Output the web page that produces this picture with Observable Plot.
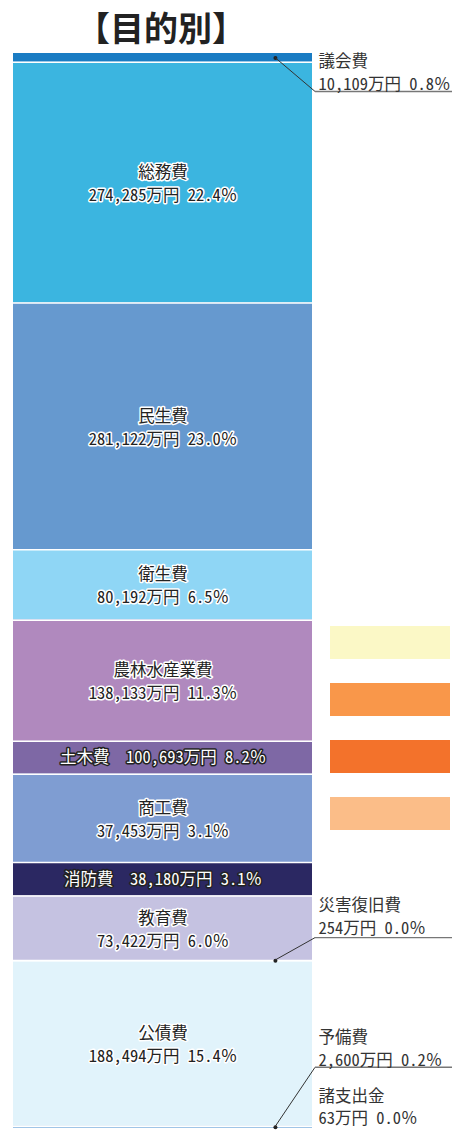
<!DOCTYPE html>
<html><head><meta charset="utf-8">
<script src="https://cdn.jsdelivr.net/npm/d3@7"></script>
<script src="https://cdn.jsdelivr.net/npm/@observablehq/plot@0.6"></script>
<style>
html,body{margin:0;padding:0;background:#fff}
#wrap{position:relative;width:458px;height:1130px;overflow:hidden}
#main{position:absolute;left:0;top:0}
#title{position:absolute;left:0;top:7px;width:322px;text-align:center;font-family:"Noto Sans CJK JP",sans-serif;font-weight:bold;font-size:34px;line-height:40px;color:#222}
#sw{position:absolute;left:330px;top:614px}
</style></head><body>
<div id="wrap"><div id="main"></div><div id="title">【目的別】</div><div id="sw"></div></div>
<script>
// ---- data ----
const categories = ["議会費","総務費","民生費","衛生費","農林水産業費","土木費","商工費","消防費","教育費","災害復旧費","公債費","予備費","諸支出金"];
const amounts  = [10109,274285,281122,80192,138133,100693,37453,38180,73422,254,188494,2600,63]; // 万円
const percents = ["0.8","22.4","23.0","6.5","11.3","8.2","3.1","3.1","6.0","0.0","15.4","0.2","0.0"];
// segment lengths as drawn in the picture (the 土木費 / 商工費 segments are drawn with each other's length)
const barLengths = [10109,274285,281122,80192,138133,37453,100693,38180,73422,254,188494,2600,63];
const segColors = ["#1a7cc3","#3bb5e0","#6699cf","#8fd6f5","#b089be","#7e68a5","#7f9dd2","#2b2862","#c5c2e1","#c5c2e1","#e1f3fb","#9cc3e6","#9cc3e6"];
const swatchColors = ["#fbf8c6","#f9974a","#f3722b","#fbbd88"];

// ---- layout (not data) ----
const FONT = "'Noto Sans Mono CJK JP','Noto Sans CJK JP',sans-serif";
const FS = 16.5;
const insideTwo = ["総務費","民生費","衛生費","農林水産業費","商工費","教育費","公債費"];
const insideOne = ["土木費","消防費"];
const outside = {
  "議会費":   {l1: 4,   l2: 27,  under: 34,    leader: true},
  "災害復旧費": {l1: -55, l2: -32, under: -22.5, leader: true},
  "予備費":   {l1: -90, l2: -67, under: -59.5, leader: true},
  "諸支出金": {l1: -32, l2: -10, under: null,  leader: false}
};
const dotFrac = 0.876;

const fmt = d3.format(",");
const total = d3.sum(barLengths);
const ends = d3.cumsum(barLengths);
const segs = categories.map((c, i) => ({
  name: c,
  amount: amounts[i],
  pct: percents[i],
  color: segColors[i],
  y1: ends[i] - barLengths[i],
  y2: ends[i],
  mid: ends[i] - barLengths[i] / 2,
  valueText: `${fmt(amounts[i])}万円 ${percents[i]}％`
}));
const two = segs.filter(d => insideTwo.includes(d.name));
const one = segs.filter(d => insideOne.includes(d.name));
const out = segs.filter(d => outside[d.name]);
const seps = segs.filter((d, i) => i > 0 && d.amount > 100);

function leaders(index, scales) {
  const g = d3.create("svg:g");
  const xr = scales.x(1);
  for (const d of out) {
    const L = outside[d.name];
    if (!L.leader) continue;
    const y0 = scales.y(d.mid);
    const x0 = scales.x(dotFrac);
    const yU = y0 + L.under;
    g.append("line").attr("x1", x0).attr("y1", y0).attr("x2", xr + 3).attr("y2", yU)
      .attr("stroke", "#333").attr("stroke-width", 1);
    g.append("line").attr("x1", xr + 3).attr("y1", yU).attr("x2", 452).attr("y2", yU)
      .attr("stroke", "#777").attr("stroke-width", 1.4);
  }
  return g.node();
}

const textCommon = {x: 0.5, y: "mid", fontFamily: FONT, fontSize: FS, textAnchor: "middle"};

const main = Plot.plot({
  width: 458, height: 1130,
  marginTop: 53, marginBottom: 2, marginLeft: 13, marginRight: 146,
  x: {domain: [0, 1], axis: null},
  y: {domain: [0, total], reverse: true, axis: null},
  style: {background: "white"},
  marks: [
    Plot.rect(segs, {x1: 0, x2: 1, y1: "y1", y2: "y2", fill: "color"}),
    Plot.ruleY(seps, {y: "y1", x1: 0, x2: 1, stroke: "white", strokeWidth: 1.5}),
    // two-line labels
    Plot.text(two, {...textCommon, text: "name", dy: -10, fill: "#222", stroke: "white", strokeWidth: 3, paintOrder: "stroke"}),
    Plot.text(two, {...textCommon, text: "valueText", dy: 13, fill: "#222", stroke: "white", strokeWidth: 3, paintOrder: "stroke"}),
    // single-line labels on thin dark segments
    Plot.text(one, {...textCommon, text: d => `${d.name}　${d.valueText}`, fill: "white", stroke: "#222", strokeWidth: 3, paintOrder: "stroke"}),
    // outside annotations
    Plot.dot(out.filter(d => outside[d.name].leader), {x: dotFrac, y: "mid", r: 2, fill: "#222", stroke: null}),
    leaders,
    ...out.map(d => Plot.text([d], {x: 1, y: "mid", dx: 6, dy: outside[d.name].l1, text: "name", textAnchor: "start", fontFamily: FONT, fontSize: FS, fill: "#333"})),
    ...out.map(d => Plot.text([d], {x: 1, y: "mid", dx: 6, dy: outside[d.name].l2, text: "valueText", textAnchor: "start", fontFamily: FONT, fontSize: FS, fill: "#333"}))
  ]
});
document.getElementById("main").appendChild(main);

const sw = swatchColors.map((c, i) => ({key: "s" + i, color: c}));
const swPlot = Plot.plot({
  width: 120, height: 228,
  margin: 0,
  x: {domain: [0, 1], axis: null},
  y: {type: "band", domain: sw.map(d => d.key), paddingInner: 0.42, paddingOuter: 0.21, axis: null},
  marks: [Plot.barX(sw, {y: "key", x1: 0, x2: 1, fill: "color"})]
});
document.getElementById("sw").appendChild(swPlot);
</script>
</body></html>
